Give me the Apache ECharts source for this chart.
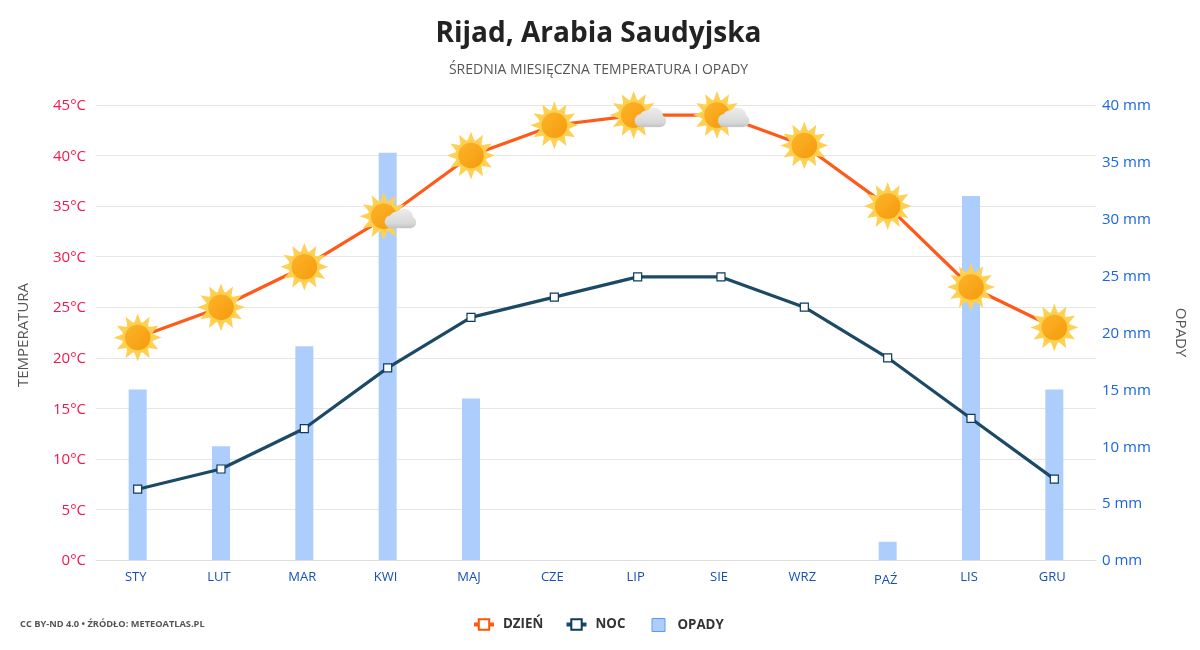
<!DOCTYPE html>
<html><head><meta charset="utf-8">
<style>html,body{margin:0;padding:0;background:#fff}#c{width:1200px;height:650px}</style>
<script src="https://cdn.jsdelivr.net/npm/echarts@6/dist/echarts.min.js"></script>
</head><body><div id="c"></div>
<script>
const months = ['STY','LUT','MAR','KWI','MAJ','CZE','LIP','SIE','WRZ','PAŹ','LIS','GRU'];
const dayTemp = [22,25,29,34,40,43,44,44,41,35,27,23];
const nightTemp = [7,9,13,19,24,26,28,28,25,20,14,8];
const rain = [15,10,18.8,35.8,14.2,0,0,0,0,1.6,32,15];
const cloudyMonths = ['KWI','LIP','SIE'];

function sunSvg(w, cx, extra) {
  let pts = [];
  for (let i = 0; i < 24; i++) {
    const r = i % 2 === 0 ? 24 : 14.5, a = Math.PI * i / 12 - Math.PI / 2;
    pts.push((cx + r * Math.cos(a)).toFixed(2) + ',' + (24 + r * Math.sin(a)).toFixed(2));
  }
  return `<svg xmlns="http://www.w3.org/2000/svg" width="${w*2}" height="96" viewBox="0 0 ${w} 48">
<defs><linearGradient id="g" x1="0" y1="0" x2="1" y2="1"><stop offset="0" stop-color="#fdb428"/><stop offset="1" stop-color="#f59a0e"/></linearGradient>
<linearGradient id="k" gradientUnits="userSpaceOnUse" x1="0" y1="17" x2="0" y2="36"><stop offset="0" stop-color="#ececec"/><stop offset="0.75" stop-color="#d8d8d8"/><stop offset="1" stop-color="#c2c2c2"/></linearGradient></defs>
<polygon points="${pts.join(' ')}" fill="#fed055"/>
<circle cx="${cx}" cy="24" r="15.5" fill="#fdd04e"/>
<circle cx="${cx}" cy="24" r="12.8" fill="url(#g)"/>${extra}</svg>`;
}
const cloud = `<g fill="url(#k)" transform="translate(0.5,0)"><circle cx="32" cy="29.5" r="6.5"/><circle cx="45" cy="25.5" r="9"/><circle cx="37" cy="26" r="6.5"/><circle cx="51" cy="30" r="6"/><rect x="32" y="28" width="19" height="8"/></g>`;
const toUri = s => 'image://data:image/svg+xml;charset=utf-8,' + encodeURIComponent(s);
const sunIcon = toUri(sunSvg(48, 24, ''));
const sunCloudIcon = toUri(sunSvg(58, 25, cloud));

const FONT = '"Open Sans", "Noto Sans", sans-serif';
const legendBase = {
  top: 613, itemWidth: 20, itemHeight: 13, selectedMode: false,
  lineStyle: { width: 4 },
  textStyle: { fontFamily: FONT, fontSize: 13.3, fontWeight: 'bold', color: '#333', padding: [0, 0, 0, 4] }
};
const chart = echarts.init(document.getElementById('c'));
chart.setOption({
  animation: false,
  textStyle: { fontFamily: FONT },
  title: [
    { text: 'Rijad, Arabia Saudyjska', left: 593.5, top: 15, textAlign: 'center',
      textStyle: { fontFamily: FONT, fontSize: 28, fontWeight: 'bold', color: '#222' } },
    { text: 'ŚREDNIA MIESIĘCZNA TEMPERATURA I OPADY', left: 593.5, top: 58, textAlign: 'center',
      textStyle: { fontFamily: FONT, fontSize: 14, fontWeight: 'normal', color: '#555' } },
    { text: 'CC BY-ND 4.0 • ŹRÓDŁO: METEOATLAS.PL', left: 15, top: 615,
      textStyle: { fontFamily: FONT, fontSize: 9.25, fontWeight: 'bold', color: '#555' } }
  ],
  legend: [
    Object.assign({}, legendBase, { left: 467, data: [{ name: 'DZIEŃ' }] }),
    Object.assign({}, legendBase, { left: 559.5, data: [{ name: 'NOC' }] }),
    Object.assign({}, legendBase, { left: 646.5, data: [{ name: 'OPADY', icon: 'path://M0 0H1V1H0Z', itemStyle: { color: '#adcefd', borderColor: '#5b9bf8', borderWidth: 1 } }] })
  ],
  grid: { left: 96, right: 104, top: 105, bottom: 90 },
  xAxis: {
    type: 'category',
    data: months.map(m => m === 'PAŹ' ? { value: m, textStyle: { padding: [3, 4, 0, 0] } } : m),
    boundaryGap: true,
    axisLine: { lineStyle: { color: '#dedede', width: 1 } },
    axisTick: { length: 10, alignWithLabel: false, lineStyle: { color: '#dedede' } },
    axisLabel: { color: '#1650b4', fontSize: 13, margin: 11, fontFamily: FONT, interval: 0, padding: [0, 4, 0, 0] }
  },
  yAxis: [
    { type: 'value', min: 0, max: 45, interval: 5, name: 'TEMPERATURA', nameLocation: 'middle', nameGap: 65, nameRotate: 90,
      nameTextStyle: { color: '#555', fontSize: 15, fontFamily: FONT, padding: [0, 5, 0, 0] },
      axisLine: { show: false }, axisTick: { show: false },
      splitLine: { lineStyle: { color: '#e6e6e6', width: 1 } },
      axisLabel: { formatter: '{value}°C', color: '#f5174d', fontSize: 15, margin: 10, fontFamily: FONT, verticalAlign: 'top', lineHeight: 2 } },
    { type: 'value', min: 0, max: 40, interval: 5, name: 'OPADY', nameLocation: 'middle', nameGap: 77, nameRotate: -90,
      nameTextStyle: { color: '#555', fontSize: 15, fontFamily: FONT },
      axisLine: { show: false }, axisTick: { show: false }, splitLine: { show: false },
      axisLabel: { formatter: '{value} mm', color: '#1a66e0', fontSize: 15, margin: 6, fontFamily: FONT, verticalAlign: 'top', lineHeight: 2 } }
  ],
  series: [
    { name: 'OPADY', type: 'bar', yAxisIndex: 1, data: rain, barWidth: 18, z: 1,
      itemStyle: { color: '#adcefd' } },
    { name: 'DZIEŃ', type: 'line', yAxisIndex: 0, z: 3,
      data: dayTemp.map((v, i) => cloudyMonths.includes(months[i])
        ? { value: v, symbol: sunCloudIcon, symbolSize: [58, 48] }
        : { value: v, symbol: sunIcon, symbolSize: 48 }),
      symbol: 'rect', symbolSize: 10, showAllSymbol: true,
      lineStyle: { color: '#ff5a1a', width: 3.2 },
      itemStyle: { color: '#fff', borderColor: '#ff5500', borderWidth: 1.2 } },
    { name: 'NOC', type: 'line', yAxisIndex: 0, z: 2,
      data: nightTemp,
      symbol: 'rect', symbolSize: 8, showAllSymbol: true,
      lineStyle: { color: '#1c4a66', width: 3.2 },
      itemStyle: { color: '#fff', borderColor: '#0b3c5d', borderWidth: 1.2 } }
  ]
});
</script></body></html>
